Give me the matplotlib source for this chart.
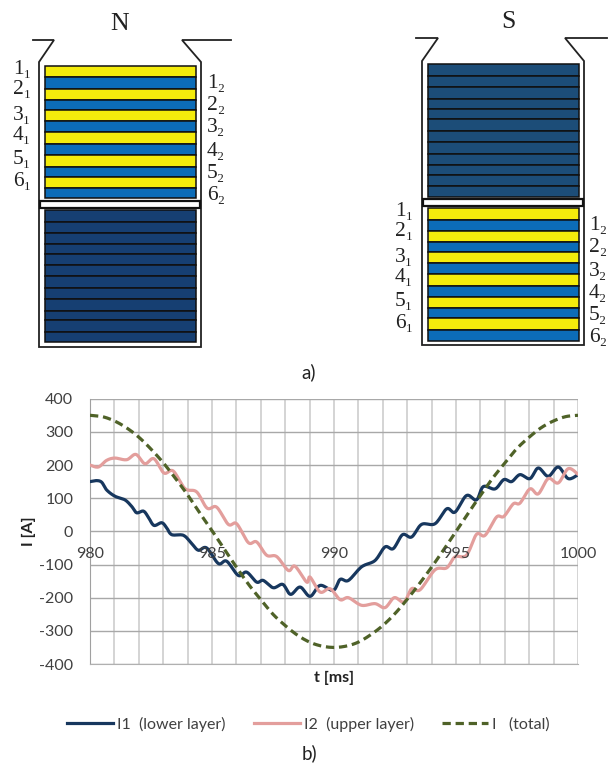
import numpy as np
import matplotlib
matplotlib.use("Agg")
import matplotlib.pyplot as plt
from matplotlib.patches import Rectangle
from matplotlib.lines import Line2D

plt.rcParams["axes.unicode_minus"] = False

# ---- chart data ----
t1 = [980.0,980.27,980.48,980.68,981.02,981.43,981.71,981.91,982.19,982.39,982.62,982.94,983.14,983.35,983.83,984.17,984.44,984.78,985.26,985.6,986.08,986.42,986.83,987.1,987.51,987.9,988.22,988.61,989.02,989.43,989.97,990.25,990.59,991.13,991.68,992.09,992.43,992.81,993.18,993.59,994.14,994.62,994.96,995.43,995.84,996.12,996.6,996.96,997.28,997.62,998.03,998.37,998.78,999.19,999.6,1000.0]
i1 = [150,153,148,125,106,95,75,56,61,43,18,26,11,-10,-12,-37,-57,-50,-97,-90,-133,-123,-153,-148,-170,-160,-190,-168,-196,-163,-178,-145,-148,-107,-88,-47,-52,-10,-17,21,23,68,58,108,95,135,128,156,150,171,159,191,166,194,159,171]
t2 = [980.0,980.34,980.68,981.02,981.5,981.88,982.25,982.62,983.03,983.41,983.89,984.37,984.8,985.19,985.67,986.01,986.49,986.83,987.24,987.65,988.13,988.4,988.88,989.02,989.43,989.84,990.25,990.59,991.13,991.68,992.09,992.47,992.87,993.18,993.53,994.14,994.62,994.96,995.43,995.84,996.19,996.66,996.96,997.35,997.62,998.03,998.37,998.78,999.19,999.6,1000.0]
i2 = [200,194,214,221,216,232,204,219,176,182,129,119,70,73,21,23,-34,-32,-72,-76,-118,-105,-153,-138,-183,-173,-206,-200,-223,-218,-230,-200,-213,-173,-176,-116,-110,-77,-72,-9,-12,43,45,83,85,128,113,159,146,189,172]
t_total = [980+0.5*k for k in range(41)]
i_total = [350,346,333,312,284,248,207,160,110,55,2,-53,-108,-160,-206,-250,-284,-313,-334,-346,-350,-346,-334,-312,-284,-248,-205,-158,-108,-55,0,55,108,160,206,250,284,313,333,346,350]
series_names = ["I1  (lower layer)", "I2  (upper layer)", "I   (total)"]
x_tick_labels = [980, 985, 990, 995, 1000]
y_tick_labels = [400, 300, 200, 100, 0, -100, -200, -300, -400]

# ---- schematic layout, in image pixels ----
n_edges = [66.0,77.3,88.7,100,110,121.3,132.3,144,155,166.7,176.7,187.7,198.3]
n_dark_edges = [210,221.7,232.7,244,254,265.3,276,288,299.3,310.7,320,331.7,342.3]
s_dark_edges = [64,76,87.3,98.7,108.7,119.3,130.7,142.3,154,165.3,175.3,186,196.7]
s_edges = [208.3,220,231,242.3,252.3,263.3,274,286,297.3,308.3,318.3,330,340.7]
YEL, BLU, DK_N, DK_S = "#f4ec0c", "#0c6cb8", "#163f72", "#1c4d78"
EDGE = "#101010"
layer_labels_1 = ["1₁","2₁","3₁","4₁","5₁","6₁"]
layer_labels_2 = ["1₂","2₂","3₂","4₂","5₂","6₂"]

W, H = 609, 763
fig = plt.figure(figsize=(W/100, H/100), dpi=100, facecolor="white")
bg = fig.add_axes([0, 0, 1, 1])
bg.set_xlim(0, W); bg.set_ylim(H, 0); bg.axis("off")

def stack(x0, x1, edges, colors):
    for k in range(len(edges)-1):
        bg.add_patch(Rectangle((x0, edges[k]), x1-x0, edges[k+1]-edges[k],
                               fc=colors[k], ec=EDGE, lw=1.1))

def shell(xa, xb, xc, xd, xe, xf, ytop, yneck, ybot):
    bg.plot([xa, xb, xc, xc, xd, xd, xe, xf], [ytop, ytop, yneck, ybot, ybot, yneck, ytop, ytop],
            color="#222222", lw=1.3, solid_joinstyle="miter")

alt = [YEL, BLU]*6
shell(33, 54, 39, 201, 182, 231, 40, 62, 347)
stack(45, 196, n_edges, alt)
stack(45, 196, n_dark_edges, [DK_N]*12)
bg.add_patch(Rectangle((40, 200.5), 160, 7.5, fc="white", ec="#111111", lw=1.6, zorder=3))

shell(416, 438, 422, 584, 565, 607, 38, 61, 345)
stack(428, 579, s_dark_edges, [DK_S]*12)
stack(428, 579, s_edges, alt)
bg.add_patch(Rectangle((423, 198.5), 160, 7.5, fc="white", ec="#111111", lw=1.6, zorder=3))

serif = "Liberation Serif"
def label(x, y, s, size=15.5):
    bg.text(x, y, s, family=serif, fontsize=size, ha="center", va="center", color="#222222")

for s, y in zip(layer_labels_1, [69, 90, 115, 136, 160, 182]): label(22, y, s)
for s, y in zip(layer_labels_2, [83, 105, 128, 151, 173, 195]): label(216, y, s)
for s, y in zip(layer_labels_1, [211, 232, 257, 278, 301, 323]): label(404, y, s)
for s, y in zip(layer_labels_2, [225, 247, 272, 293, 315, 337]): label(598, y, s)
label(120, 24, "N", 18.5)
label(508, 22, "S", 18.5)

sans = "Lato"
bg.text(309, 372, "a)", family=sans, fontsize=13.5, ha="center", va="center", color="#222222")
bg.text(309, 753, "b)", family=sans, fontsize=13.5, ha="center", va="center", color="#222222")

# ---- chart ----
L, R, T, B = 90, 578, 398.7, 664
ax = fig.add_axes([L/W, 1-B/H, (R-L)/W, (B-T)/H])
ax.patch.set_alpha(0)

def smooth(x, y, n=12):
    x = np.asarray(x, float); y = np.asarray(y, float)
    px = np.r_[x[0], x, x[-1]]; py = np.r_[y[0], y, y[-1]]
    u = np.linspace(0, 1, n, endpoint=False)[:, None]
    def seg(p):
        a, b, c, d = p[:-3], p[1:-2], p[2:-1], p[3:]
        v = 0.5*(2*b + (c-a)*u + (2*a-5*b+4*c-d)*u**2 + (3*b-a-3*c+d)*u**3)
        return np.r_[v.T.ravel(), p[-2]]
    return seg(px), seg(py)

LINE1, LINE2, LINE3 = "#17375e", "#e39e9c", "#4f6228"
DASH = (2.6, 1.5)
ax.plot(*smooth(t1, i1), color=LINE1, lw=2.3, solid_capstyle="round", zorder=3)
ax.plot(*smooth(t2, i2), color=LINE2, lw=2.3, solid_capstyle="round", zorder=4)
ax.plot(*smooth(t_total, i_total), color=LINE3, lw=2.3, dashes=DASH, zorder=5)

ax.set_xlim(980, 1000); ax.set_ylim(-400, 400)
ax.set_xticks(np.arange(980, 1001, 1), minor=True)
ax.set_xticks(x_tick_labels); ax.set_xticklabels([])
ax.set_yticks(y_tick_labels)
ax.grid(True, which="both", axis="x", color="#c9c9c9", lw=1.1)
ax.grid(True, which="major", axis="y", color="#a8a8a8", lw=1.0)
ax.set_axisbelow(True)
for s in ax.spines.values():
    s.set_visible(False)
ax.spines["left"].set_visible(True); ax.spines["left"].set_color("#a0a0a0")
ax.spines["bottom"].set_visible(True); ax.spines["bottom"].set_color("#b0b0b0")
ax.tick_params(which="both", length=0, labelsize=11.5, labelcolor="#404040")
for lab in ax.get_yticklabels():
    lab.set_family(sans)
ax.tick_params(axis="y", pad=12)
for v in x_tick_labels:
    ax.annotate(str(v), (v, 0), xytext=(0, -16.5), textcoords="offset points", ha="center", va="center",
                family=sans, fontsize=11.5, color="#404040", annotation_clip=False, zorder=6)
bg.text(334, 678, "t [ms]", family=sans, fontsize=11.5, fontweight="bold", ha="center", va="center", color="#222222")
bg.text(29, 531, "I [A]", family=sans, fontsize=11.5, fontweight="bold", ha="center", va="center", rotation=90, color="#222222")

handles = [Line2D([], [], color=LINE1, lw=2.3), Line2D([], [], color=LINE2, lw=2.3),
           Line2D([], [], color=LINE3, lw=2.3, dashes=DASH)]
fig.legend(handles, series_names, ncol=3, loc="center", bbox_to_anchor=(308.5/W, 1-724/H), frameon=False,
           prop={"family": sans, "size": 11.5}, labelcolor="#404040", handlelength=2.9,
           handletextpad=0.25, columnspacing=1.75, borderpad=0)

fig.savefig("out.png", dpi=100)
